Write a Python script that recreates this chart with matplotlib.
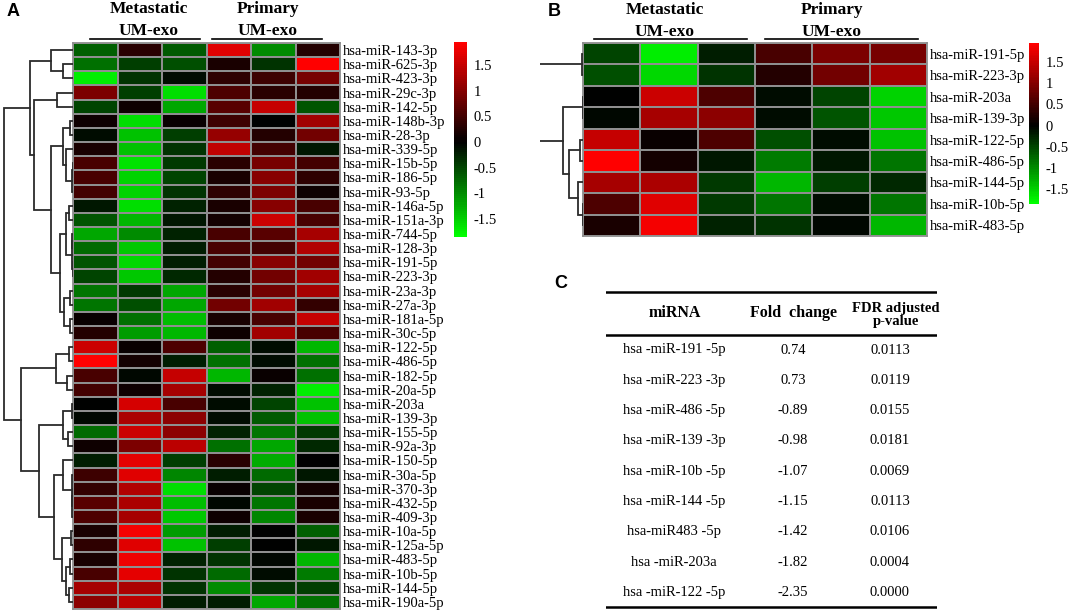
import matplotlib
matplotlib.use("Agg")
import matplotlib.pyplot as plt
import numpy as np
from matplotlib.colors import LinearSegmentedColormap, Normalize

# ---------------- data ----------------
mirs_a = ['hsa-miR-143-3p', 'hsa-miR-625-3p', 'hsa-miR-423-3p', 'hsa-miR-29c-3p', 'hsa-miR-142-5p',
          'hsa-miR-148b-3p', 'hsa-miR-28-3p', 'hsa-miR-339-5p', 'hsa-miR-15b-5p', 'hsa-miR-186-5p',
          'hsa-miR-93-5p', 'hsa-miR-146a-5p', 'hsa-miR-151a-3p', 'hsa-miR-744-5p', 'hsa-miR-128-3p',
          'hsa-miR-191-5p', 'hsa-miR-223-3p', 'hsa-miR-23a-3p', 'hsa-miR-27a-3p', 'hsa-miR-181a-5p',
          'hsa-miR-30c-5p', 'hsa-miR-122-5p', 'hsa-miR-486-5p', 'hsa-miR-182-5p', 'hsa-miR-20a-5p',
          'hsa-miR-203a', 'hsa-miR-139-3p', 'hsa-miR-155-5p', 'hsa-miR-92a-3p', 'hsa-miR-150-5p',
          'hsa-miR-30a-5p', 'hsa-miR-370-3p', 'hsa-miR-432-5p', 'hsa-miR-409-3p', 'hsa-miR-10a-5p',
          'hsa-miR-125a-5p', 'hsa-miR-483-5p', 'hsa-miR-10b-5p', 'hsa-miR-144-5p', 'hsa-miR-190a-5p']

# columns: Metastatic 1-3, Primary 1-3 (z-scores)
z_a = [
    [-0.70, 0.30, -0.65, 1.70, -1.00, 0.25],
    [-0.80, -0.45, -0.55, 0.20, -0.35, 1.95],
    [-1.70, -0.35, -0.10, 0.35, 0.45, 0.90],
    [0.95, -0.45, -1.60, 0.60, 0.30, 0.25],
    [-0.50, 0.10, -1.20, 0.65, 1.50, -0.60],
    [0.10, -1.60, 0.05, 0.45, 0.00, 1.20],
    [-0.10, -1.40, -0.45, 1.15, 0.25, 0.85],
    [0.20, -1.40, -0.35, 1.45, 0.50, -0.15],
    [0.55, -1.65, -0.40, 0.30, 0.90, 0.50],
    [0.55, -1.50, -0.50, 0.20, 1.00, 0.35],
    [0.50, -1.50, -0.35, 0.35, 0.95, 0.10],
    [-0.15, -1.60, -0.25, 0.20, 1.00, 0.55],
    [-0.60, -1.30, -0.15, 0.15, 1.55, 0.55],
    [-1.20, -1.00, -0.25, 0.55, 0.65, 1.25],
    [-0.75, -1.45, -0.20, 0.55, 0.50, 1.35],
    [-0.60, -1.55, -0.20, 0.50, 1.00, 0.85],
    [-0.50, -1.45, -0.30, 0.25, 0.85, 1.20],
    [-0.85, -0.40, -1.20, 0.30, 0.85, 1.25],
    [-0.85, -0.55, -1.20, 0.85, 1.20, 0.40],
    [0.05, -0.80, -1.35, 0.20, 0.55, 1.50],
    [0.25, -1.10, -1.30, 0.10, 1.20, 0.55],
    [1.55, 0.05, 0.60, -0.70, -0.10, -1.30],
    [1.95, 0.15, -0.20, -0.80, -0.10, -0.80],
    [0.55, -0.05, 1.50, -1.30, 0.05, -0.80],
    [0.50, 0.10, 1.25, -0.10, -0.25, -1.70],
    [0.00, 1.60, 0.55, -0.10, -0.50, -1.40],
    [-0.05, 1.30, 1.05, -0.10, -0.65, -1.40],
    [-0.75, 1.55, 1.05, -0.25, -0.85, -0.40],
    [0.10, 0.95, 1.40, -0.80, -1.20, -0.30],
    [-0.20, 1.75, -0.45, 0.30, -1.25, 0.00],
    [0.45, 1.70, -0.95, -0.20, -0.75, -0.15],
    [0.40, 1.35, -1.60, 0.05, -0.50, 0.15],
    [0.65, 1.30, -1.35, -0.05, -0.85, 0.20],
    [0.60, 1.25, -1.45, 0.10, -0.95, 0.20],
    [0.20, 1.85, -1.10, -0.20, 0.00, -0.70],
    [0.35, 1.70, -1.40, -0.45, 0.00, -0.15],
    [0.20, 1.80, -0.25, -0.35, -0.05, -1.30],
    [0.55, 1.75, -0.35, -0.75, -0.10, -0.90],
    [1.25, 1.30, -0.35, -1.00, -0.35, -0.45],
    [1.05, 1.40, -0.20, -0.20, -1.20, -0.80],
]

mirs_b = ['hsa-miR-191-5p', 'hsa-miR-223-3p', 'hsa-miR-203a', 'hsa-miR-139-3p', 'hsa-miR-122-5p',
          'hsa-miR-486-5p', 'hsa-miR-144-5p', 'hsa-miR-10b-5p', 'hsa-miR-483-5p']
z_b = [
    [-0.50, -1.70, -0.20, 0.55, 0.95, 0.90],
    [-0.55, -1.55, -0.35, 0.25, 0.85, 1.20],
    [0.00, 1.55, 0.60, -0.10, -0.50, -1.50],
    [-0.05, 1.25, 1.05, -0.10, -0.60, -1.45],
    [1.50, 0.05, 0.60, -0.55, -0.10, -1.40],
    [1.95, 0.15, -0.15, -0.90, -0.15, -0.85],
    [1.25, 1.30, -0.40, -1.30, -0.45, -0.30],
    [0.60, 1.70, -0.40, -0.85, -0.10, -0.85],
    [0.20, 1.85, -0.25, -0.35, -0.05, -1.30],
]

# row clustering trees: (left, right, merge height); ints are row indices
tree_a = (
    ((0, (1, 2, 10), 22),
     ((3, 4, 16),
      (((5, 6, 3), (7, ((8, 9, 0.5), 10, 1), 7), 10),
       (((11, 12, 4), ((13, 14, 1), (15, 16, 0.5), 1.5), 7),
        ((17, 18, 3), (19, 20, 3), 9), 13), 22), 39), 43),
    (((21, 22, 4), (23, 24, 6), 17),
     (((25, 26, 1.5), (27, 28, 5), 10),
      ((29, (30, ((31, 32, 0.3), 33, 0.6), 1.5), 10),
       ((34, 35, 2), ((36, 37, 3), (38, 39, 4), 7), 11), 19), 34), 52),
    69)
tree_b = ((0, 1, 1),
          ((2, 3, 0.5), ((4, 5, 3), (6, (7, 8, 0.5), 5), 14), 20),
          60)

table_mirna = ['hsa -miR-191 -5p', 'hsa -miR-223 -3p', 'hsa -miR-486 -5p', 'hsa -miR-139 -3p',
               'hsa -miR-10b -5p', 'hsa -miR-144 -5p', 'hsa-miR483 -5p', 'hsa -miR-203a',
               'hsa -miR-122 -5p']
table_fc = ['0.74', '0.73', '-0.89', '-0.98', '-1.07', '-1.15', '-1.42', '-1.82', '-2.35']
table_fdr = ['0.0113', '0.0119', '0.0155', '0.0181', '0.0069', '0.0113', '0.0106', '0.0004', '0.0000']

cbar_ticks = [1.5, 1, 0.5, 0, -0.5, -1, -1.5]
vmin, vmax = -1.85, 1.95

# ---------------- style ----------------
SERIF = ['Liberation Serif', 'DejaVu Serif']
W, H = 1072, 612
GRID = '#8e8e8e'
LINE = '#2b2b2b'

c0 = -vmin / (vmax - vmin)
cmap = LinearSegmentedColormap.from_list(
    'gkr', [(0, '#00ff00'), (c0, '#000000'), (1, '#ff0000')], N=96)
norm = Normalize(vmin=vmin, vmax=vmax)

fig = plt.figure(figsize=(W / 100, H / 100), dpi=100)


def box(x0, y0, x1, y1):
    return [x0 / W, 1 - y1 / H, (x1 - x0) / W, (y1 - y0) / H]


def draw_tree(ax, node):
    # returns (y centre, height) of node
    if isinstance(node, int):
        return node + 0.5, 0
    left, right, h = node
    y1, h1 = draw_tree(ax, left)
    y2, h2 = draw_tree(ax, right)
    ax.plot([h1, h, h, h2], [y1, y1, y2, y2], color=LINE, lw=1.3,
            solid_joinstyle='miter', clip_on=True)
    return (y1 + y2) / 2, h


def heatmap(rect, drect, crect, z, labels, tree, dmax, fs):
    ax = fig.add_axes(box(*rect))
    data = np.array(z)
    n = data.shape[0]
    mesh = ax.pcolormesh(data, cmap=cmap, norm=norm, edgecolors=GRID, linewidth=1.3)
    ax.set_xlim(0, data.shape[1])
    ax.set_ylim(n, 0)
    ax.set_xticks([])
    ax.set_yticks(np.arange(n) + 0.5)
    ax.set_yticklabels(labels, family=SERIF, fontsize=fs)
    ax.yaxis.tick_right()
    ax.tick_params(axis='y', length=0, pad=2)
    for s in ax.spines.values():
        s.set_color(GRID)
        s.set_linewidth(1.3)

    dax = fig.add_axes(box(*drect))
    draw_tree(dax, tree)
    dax.set_ylim(n, 0)
    dax.set_xlim(dmax, 0)
    dax.axis('off')

    cax = fig.add_axes(box(*crect))
    cb = fig.colorbar(mesh, cax=cax)
    cb.outline.set_visible(False)
    cb.set_ticks(cbar_ticks)
    cb.set_ticklabels(['1.5', '1', '0.5', '0', '-0.5', '-1', '-1.5'])
    cax.tick_params(length=0, pad=5)
    for t in cax.get_yticklabels():
        t.set_family(SERIF)
        t.set_fontsize(fs)
    return ax


def header(xm, xp, line_m, line_p, y_top):
    for xc, txt in ((xm, 'Metastatic'), (xp, 'Primary')):
        fig.text(xc / W, 1 - y_top / H, txt, ha='center', va='center',
                 family=SERIF, fontsize=12.5, fontweight='bold')
        fig.text(xc / W, 1 - (y_top + 22) / H, 'UM-exo', ha='center', va='center',
                 family=SERIF, fontsize=12.5, fontweight='bold')
    for x0, x1 in (line_m, line_p):
        fig.add_artist(plt.Line2D([x0 / W, x1 / W], [1 - 38.5 / H] * 2,
                                  color='black', lw=1.2))


# panel A
heatmap((73, 43, 340, 609), (0, 43, 73, 609), (454, 42, 467, 237),
        z_a, mirs_a, tree_a, 73, 10.5)
header(149, 268, (90, 200), (212, 322), 9)

# panel B
heatmap((583, 43, 927, 236), (540, 43, 583, 236), (1029, 43, 1039, 204),
        z_b, mirs_b, tree_b, 43, 10.5)
header(665, 832, (594, 747), (765, 918), 10)

# panel letters
for x, y, s in ((13, 12, 'A'), (554, 12, 'B'), (561, 283, 'C')):
    fig.text(x / W, 1 - y / H, s, ha='center', va='center',
             family=['Liberation Sans', 'DejaVu Sans'], fontsize=13, fontweight='bold')

# panel C table (row pitch ~30 px, first row 350 px from top)
tax = fig.add_axes(box(606, 290, 937, 610))
nrow = len(table_mirna)
tax.set_xlim(606, 937)
tax.set_ylim(9.08, -1.48)
tax.axis('off')
col_x = [675, 793, 890]
tax.axhline(-1.414, color='black', lw=1.8)
tax.axhline(0.0, color='black', lw=1.8)
tax.axhline(8.98, color='black', lw=1.8)
tax.text(col_x[0], -0.72, 'miRNA', ha='center', va='center', family=SERIF,
         fontsize=11.5, fontweight='bold')
tax.text(col_x[1], -0.72, 'Fold  change', ha='center', va='center', family=SERIF,
         fontsize=11.5, fontweight='bold')
tax.text(col_x[2] + 6, -0.66, 'FDR adjusted\np-value', ha='center', va='center', family=SERIF,
         fontsize=10.5, fontweight='bold', linespacing=0.95)
for i in range(nrow):
    y = i + 0.5
    tax.text(col_x[0] - 1, y, table_mirna[i], ha='center', va='center', family=SERIF, fontsize=10.5)
    tax.text(col_x[1], y, table_fc[i], ha='center', va='center', family=SERIF, fontsize=10.5)
    tax.text(col_x[2], y, table_fdr[i], ha='center', va='center', family=SERIF, fontsize=10.5)

fig.savefig('out.png', dpi=100)
